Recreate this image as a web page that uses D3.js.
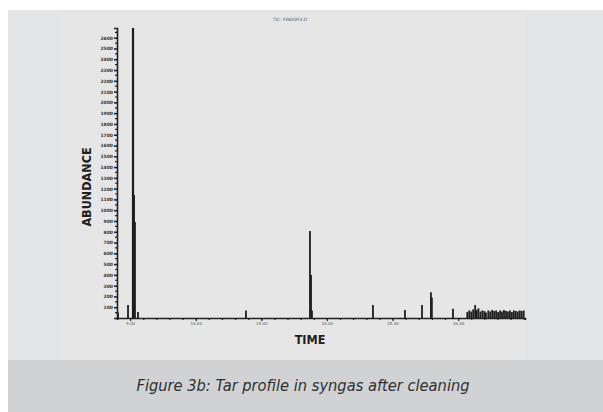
<!DOCTYPE html>
<html>
<head>
<meta charset="utf-8">
<script src="https://cdn.jsdelivr.net/npm/d3@7"></script>
<style>
  html, body { margin: 0; padding: 0; background: #fff; }
  svg { display: block; }
</style>
</head>
<body>
<svg id="chart" width="603" height="412"></svg>
<script>
// chromatogram peaks (retention time in minutes, abundance)
var peakTimes = [4.08, 4.84, 5.22, 5.30, 5.37, 5.60, 13.83, 18.71, 18.79, 18.86,
    23.51, 25.95, 27.25, 27.93, 28.00, 29.61,
    30.70, 30.85, 31.00, 31.15, 31.30, 31.42, 31.55, 31.70, 31.85, 32.00,
    32.12, 32.30, 32.45, 32.60, 32.75, 32.90, 33.05, 33.20, 33.35, 33.50,
    33.65, 33.80, 33.95, 34.10, 34.25, 34.40, 34.55, 34.70, 34.85, 35.00];
var peakHeights = [50, 120, 2690, 1140, 890, 55, 70, 808, 400, 70,
    120, 75, 120, 240, 190, 85,
    55, 70, 60, 80, 120, 75, 90, 60, 70, 65,
    50, 70, 60, 75, 65, 70, 55, 70, 60, 75,
    65, 60, 70, 55, 70, 65, 60, 70, 65, 70];

var yTickValues = d3.range(100, 2700, 100);
var xMinorTicks = d3.range(4, 36, 1);
var xTickValues = [5, 10, 15, 20, 25, 30];
var xTickLabels = ["5.00", "10.00", "15.00", "20.00", "25.00", "30.00"];

var titleText = "TIC: F0603F3.D";
var yTitle = "ABUNDANCE";
var xTitle = "TIME";
var caption = "Figure 3b: Tar profile in syngas after cleaning";

var svg = d3.select("#chart");

// background panels
svg.append("rect").attr("x", 8).attr("y", 10).attr("width", 595).attr("height", 350)
    .attr("fill", "#e3e4e6");
svg.append("rect").attr("x", 60).attr("y", 10).attr("width", 465).attr("height", 350)
    .attr("fill", "#e6e6e6");
svg.append("rect").attr("x", 8).attr("y", 360).attr("width", 595).attr("height", 52)
    .attr("fill", "#d1d2d4");

var x = d3.scaleLinear().domain([4, 35.1]).range([117, 525]);
var y = d3.scaleLinear().domain([0, 2690]).range([318, 28]);

// peaks
svg.append("g").selectAll("line")
    .data(peakTimes)
    .enter().append("line")
    .attr("x1", function (d) { return x(d); })
    .attr("x2", function (d) { return x(d); })
    .attr("y1", y(0))
    .attr("y2", function (d, i) { return y(peakHeights[i]); })
    .attr("stroke", "#1e1e1e")
    .attr("stroke-width", function (d, i) { return peakHeights[i] > 2000 ? 2.2 : 1.8; });

// y axis
var yAxis = d3.axisLeft(y)
    .tickValues(yTickValues)
    .tickSize(3)
    .tickFormat(d3.format("d"));
var gy = svg.append("g").attr("transform", "translate(117,0)").call(yAxis);
gy.select(".domain").attr("stroke", "#222").attr("stroke-width", 1.6);
gy.selectAll(".tick line").attr("stroke", "#222").attr("stroke-width", 1.6);
gy.selectAll(".tick text")
    .attr("x", -4)
    .attr("fill", "#333")
    .style("font-family", "DejaVu Sans")
    .style("font-weight", "bold")
    .style("font-size", "4.5px");
// minor y ticks
svg.append("g").selectAll("line")
    .data(d3.range(50, 2700, 100))
    .enter().append("line")
    .attr("x1", 115).attr("x2", 117)
    .attr("y1", function (d) { return y(d); })
    .attr("y2", function (d) { return y(d); })
    .attr("stroke", "#222").attr("stroke-width", 1.2);

// x axis
var xAxisMinor = d3.axisBottom(x).tickValues(xMinorTicks).tickSize(2).tickFormat("");
var gxm = svg.append("g").attr("transform", "translate(0,318)").call(xAxisMinor);
gxm.select(".domain").attr("stroke", "#222").attr("stroke-width", 1.6);
gxm.selectAll(".tick line").attr("stroke", "#222").attr("stroke-width", 1.2);

var xAxis = d3.axisBottom(x)
    .tickValues(xTickValues)
    .tickSize(3)
    .tickFormat(function (d, i) { return xTickLabels[i]; });
var gx = svg.append("g").attr("transform", "translate(0,318)").call(xAxis);
gx.select(".domain").remove();
gx.selectAll(".tick line").attr("stroke", "#222").attr("stroke-width", 1.2);
gx.selectAll(".tick text")
    .attr("y", 4)
    .attr("fill", "#555")
    .style("font-family", "DejaVu Sans")
    .style("font-size", "4px");

// title at top
svg.append("text").attr("x", 290).attr("y", 21)
    .attr("text-anchor", "middle")
    .attr("fill", "#555")
    .style("font-family", "DejaVu Sans")
    .style("font-size", "4.5px")
    .text(titleText);

// axis titles
svg.append("text")
    .attr("transform", "translate(91,187) rotate(-90)")
    .attr("text-anchor", "middle")
    .attr("fill", "#1e1e1e")
    .style("font-family", "DejaVu Sans Condensed")
    .style("font-weight", "bold")
    .style("font-size", "12.5px")
    .text(yTitle);
svg.append("text")
    .attr("x", 310).attr("y", 344)
    .attr("text-anchor", "middle")
    .attr("fill", "#1e1e1e")
    .style("font-family", "DejaVu Sans Condensed")
    .style("font-weight", "bold")
    .style("font-size", "12.5px")
    .text(xTitle);

// caption
svg.append("text")
    .attr("x", 303).attr("y", 391)
    .attr("text-anchor", "middle")
    .attr("fill", "#2f2f2f")
    .style("font-family", "DejaVu Sans Condensed")
    .style("font-style", "italic")
    .style("font-size", "16.3px")
    .text(caption);
</script>
</body>
</html>
